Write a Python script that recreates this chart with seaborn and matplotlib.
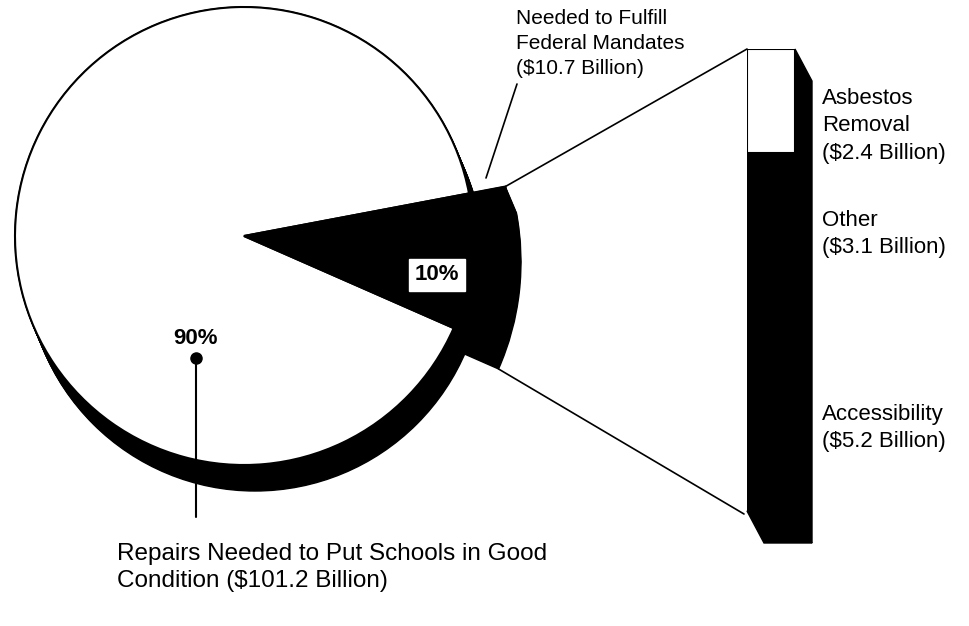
import numpy as np
import matplotlib
matplotlib.use("Agg")
import matplotlib.pyplot as plt
from matplotlib.patches import Circle, Wedge, Polygon
import seaborn as sns

# data (billions of dollars)
pie_labels = ["Needed to Fulfill Federal Mandates", "Repairs Needed to Put Schools in Good Condition"]
pie_values = [10.7, 101.2]
pie_pcts = ["10%", "90%"]
pie_colors = ["black", "white"]

bar_labels = ["Asbestos\nRemoval\n($2.4 Billion)", "Other\n($3.1 Billion)", "Accessibility\n($5.2 Billion)"]
bar_values = [2.4, 3.1, 5.2]
bar_colors = ["white", "black", "black"]

sns.set_style("white")
plt.rcParams['font.family'] = ['Liberation Sans', 'DejaVu Sans']
plt.rcParams['text.color'] = 'black'

W, H = 970, 626
fig = plt.figure(figsize=(W / 100, H / 100), dpi=100)
ax = fig.add_axes([0, 0, 1, 1])

# pie geometry (pixel space, y down)
cx, cy, R = 244, 236, 229
R_slice = 266
depth = (11, 26)
span = 360 * pie_values[0] / sum(pie_values)
mid = 6.5  # visual angle below horizontal

wedges, _ = ax.pie(pie_values, colors=pie_colors, center=(cx, cy), radius=R,
                   startangle=mid - span / 2, counterclock=True,
                   wedgeprops=dict(edgecolor="black", linewidth=1.5))
wedges[0].set_radius(R_slice)
wedges[0].set_zorder(4)
wedges[1].set_zorder(3)
t1, t2 = wedges[0].theta1, wedges[0].theta2

# 3d depth under the pie
for k in np.linspace(0, 1, 20):
    ox, oy = cx + depth[0] * k, cy + depth[1] * k
    ax.add_patch(Circle((ox, oy), R, color="black", zorder=1))
    ax.add_patch(Wedge((ox, oy), R_slice, t1, t2, color="black", zorder=2))

ax.set_xlim(0, W)
ax.set_ylim(H, 0)
ax.set_aspect("equal")
ax.axis("off")

# stacked bar, drawn as cumulative layers
bx0, bx1, by0, by1 = 747, 795, 49, 511
bar_ax = fig.add_axes([bx0 / W, 1 - by1 / H, (bx1 - bx0) / W, (by1 - by0) / H])
cum = np.cumsum(bar_values)
for val, col in zip(cum[::-1], bar_colors[::-1]):
    sns.barplot(x=[""], y=[val], color=col, saturation=1, width=1,
                edgecolor="black", linewidth=1.5, ax=bar_ax)
bar_ax.set_ylim(cum[-1], 0)
bar_ax.set_xlim(-0.5, 0.5)
bar_ax.axis("off")

# bar side + bottom faces
ex, ey = 17, 32
ax.add_patch(Polygon([(bx1, by0), (bx1 + ex, by0 + ey), (bx1 + ex, by1 + ey), (bx1, by1)],
                     closed=True, color="black", zorder=2))
ax.add_patch(Polygon([(bx0, by1), (bx1, by1), (bx1 + ex, by1 + ey), (bx0 + ex, by1 + ey)],
                     closed=True, color="black", zorder=2))

# connector lines from slice to bar (y is flipped: theta1 is the upper edge)
a_up, a_lo = np.deg2rad(t1), np.deg2rad(t2)
p_up = (cx + R_slice * np.cos(a_up), cy + R_slice * np.sin(a_up))
p_lo = (cx + depth[0] + R_slice * np.cos(a_lo), cy + depth[1] + R_slice * np.sin(a_lo))
ax.plot([p_up[0], bx0], [p_up[1], by0], color="black", lw=1.2, zorder=5)
ax.plot([p_lo[0], bx0 - 3], [p_lo[1], by1 + 3], color="black", lw=1.2, zorder=5)

fs = 16
# slice labels
ax.text(437, 275, pie_pcts[0], ha="center", va="center", fontsize=fs, fontweight="bold",
        zorder=6, bbox=dict(boxstyle="square,pad=0.25", fc="white", ec="white"))
ax.text(196, 338, pie_pcts[1], ha="center", va="center", fontsize=fs, fontweight="bold", zorder=6)
ax.plot([196, 196], [358, 517], color="black", lw=1.5, zorder=6)
ax.plot([196], [358], "o", color="black", ms=8, zorder=6)

ax.text(117, 543, "Repairs Needed to Put Schools in Good\nCondition ($101.2 Billion)",
        ha="left", va="top", fontsize=17.5, linespacing=1.3)
ax.text(516, 9, "Needed to Fulfill\nFederal Mandates\n($10.7 Billion)",
        ha="left", va="top", fontsize=15, linespacing=1.4)
ax.plot([517, 486], [84, 178], color="black", lw=1.2, zorder=5)

# bar labels
for lab, ytop in zip(bar_labels, [88, 210, 404]):
    ax.text(822, ytop, lab, ha="left", va="top", fontsize=fs, linespacing=1.4)

fig.savefig("out.png", dpi=100)
